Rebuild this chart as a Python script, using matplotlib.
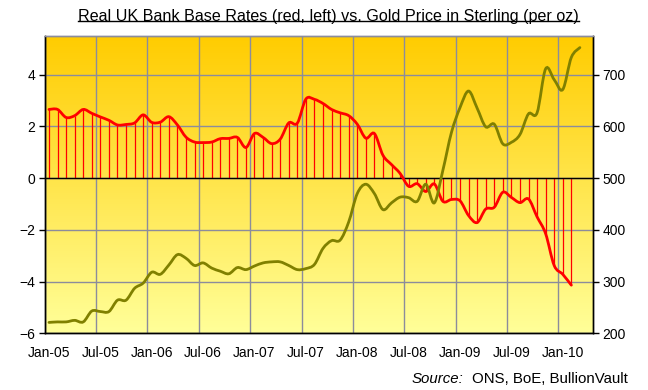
import matplotlib
matplotlib.use("Agg")
import matplotlib.pyplot as plt
import numpy as np
from matplotlib.lines import Line2D
from matplotlib.path import Path
from matplotlib.patches import PathPatch

plt.rcParams['font.family'] = ['Liberation Sans', 'DejaVu Sans']

# monthly categories Jan-05 .. Apr-10 (64 slots)
n_months = 64
tick_labels = ["Jan-05", "Jul-05", "Jan-06", "Jul-06", "Jan-07", "Jul-07",
               "Jan-08", "Jul-08", "Jan-09", "Jul-09", "Jan-10"]

# real bank base rate, % (left axis), Jan-05 .. Feb-10
real_rate = [2.65, 2.65, 2.34, 2.41, 2.65, 2.50, 2.36, 2.23, 2.05, 2.07,
             2.13, 2.44, 2.15, 2.16, 2.37, 2.05, 1.58, 1.39, 1.37, 1.39,
             1.52, 1.53, 1.57, 1.18, 1.72, 1.57, 1.33, 1.50, 2.13, 2.12,
             3.05, 3.04, 2.88, 2.65, 2.52, 2.41, 2.08, 1.54, 1.72, 0.88,
             0.52, 0.18, -0.32, -0.22, -0.52, -0.23, -0.90, -0.83, -0.88, -1.45,
             -1.72, -1.20, -1.13, -0.55, -0.75, -0.95, -0.81, -1.50, -2.15, -3.38,
             -3.72, -4.14]

# gold price in sterling, GBP/oz (right axis), Jan-05 .. Mar-10
gold_gbp = [221, 222, 222, 225, 222, 243, 242, 242, 264, 264,
            287, 297, 318, 314, 332, 352, 345, 331, 336, 326,
            320, 315, 327, 323, 330, 336, 338, 338, 331, 323,
            325, 333, 364, 379, 380, 415, 470, 488, 470, 439,
            452, 463, 462, 455, 488, 452, 515, 588, 636, 668,
            635, 599, 604, 566, 569, 584, 624, 626, 711, 690,
            671, 733, 752]


def smooth_path(x, y):
    # excel-style smoothed line: cubic bezier through every point
    p = np.column_stack([x, y]).astype(float)
    verts = [p[0]]
    codes = [Path.MOVETO]
    n = len(p)
    for i in range(n - 1):
        p0 = p[max(i - 1, 0)]
        p1 = p[i]
        p2 = p[i + 1]
        p3 = p[min(i + 2, n - 1)]
        verts += [p1 + (p2 - p0) / 6, p2 - (p3 - p1) / 6, p2]
        codes += [Path.CURVE4] * 3
    return Path(verts, codes)


fig = plt.figure(figsize=(6.48, 3.90), dpi=100)
ax = fig.add_axes([0.069, 0.1454, 0.8457, 0.7631])

# background gradient
top_c = np.array([255, 204, 0]) / 255
bot_c = np.array([255, 255, 153]) / 255
t = np.linspace(0, 1, 256)[:, None]
grad = (top_c * (1 - t) + bot_c * t)[:, None, :]
ax.imshow(grad, extent=[0, 1, 0, 1], transform=ax.transAxes, aspect='auto', zorder=0)

x_red = np.arange(len(real_rate))
ax.vlines(x_red, 0, real_rate, color='#FF0000', lw=0.9, zorder=3)
ax.add_patch(PathPatch(smooth_path(x_red, real_rate), fill=False,
                       edgecolor='#FF0000', lw=2.0, zorder=4, capstyle='round'))
ax.axhline(0, color='black', lw=1.0, zorder=3)

ax.set_xlim(-0.5, n_months - 0.5)
ax.set_ylim(-6, 5.5)
ax.set_yticks([-6, -4, -2, 0, 2, 4])
ax.set_xticks(np.arange(0, 61, 6))
ax.set_xticklabels(tick_labels)
ax.set_xticks(np.arange(0, 61, 6) - 0.5, minor=True)
ax.tick_params(axis='x', which='major', length=0, pad=9, labelsize=10)
ax.tick_params(axis='x', which='minor', length=0)
ax.tick_params(axis='y', length=4, width=1, labelsize=10, pad=3)
ax.grid(True, axis='x', which='minor', color='#8C8C9C', lw=1.0)
ax.grid(True, axis='y', which='major', color='#8C8C9C', lw=1.0)
ax.set_axisbelow(True)
for g in ax.get_xgridlines() + ax.get_ygridlines():
    g.set_zorder(1)

ax2 = ax.twinx()
x_gold = np.arange(len(gold_gbp))
ax2.add_patch(PathPatch(smooth_path(x_gold, gold_gbp), fill=False,
                        edgecolor='#808000', lw=2.0, zorder=5, capstyle='round'))
ax2.set_ylim(200, 775)
ax2.set_yticks([200, 300, 400, 500, 600, 700])
ax2.tick_params(axis='y', length=4, width=1, labelsize=10, pad=3)

for a in (ax, ax2):
    a.spines['top'].set_color('#8C8C9C')
    a.spines['left'].set_color('black')
    a.spines['right'].set_color('black')
    a.spines['bottom'].set_color('black')
    for s in a.spines.values():
        s.set_linewidth(1.0)

title = fig.text(0.507, 0.947, "Real UK Bank Base Rates (red, left) vs. Gold Price in Sterling (per oz)",
                 ha='center', va='baseline', fontsize=11.6)

src_main = fig.text(0.969, 0.018, "ONS, BoE, BullionVault", ha='right', va='baseline', fontsize=10.8)

fig.canvas.draw()
mb = src_main.get_window_extent().transformed(fig.transFigure.inverted())
fig.text(mb.x0 - 0.014, 0.018, "Source:", ha='right', va='baseline', fontsize=10.8, style='italic')

# underline the title
bb = title.get_window_extent().transformed(fig.transFigure.inverted())
uy = bb.y0 + 0.006
fig.add_artist(Line2D([bb.x0, bb.x1], [uy, uy], transform=fig.transFigure, color='black', lw=1.0))

fig.savefig("out.png", dpi=100)
